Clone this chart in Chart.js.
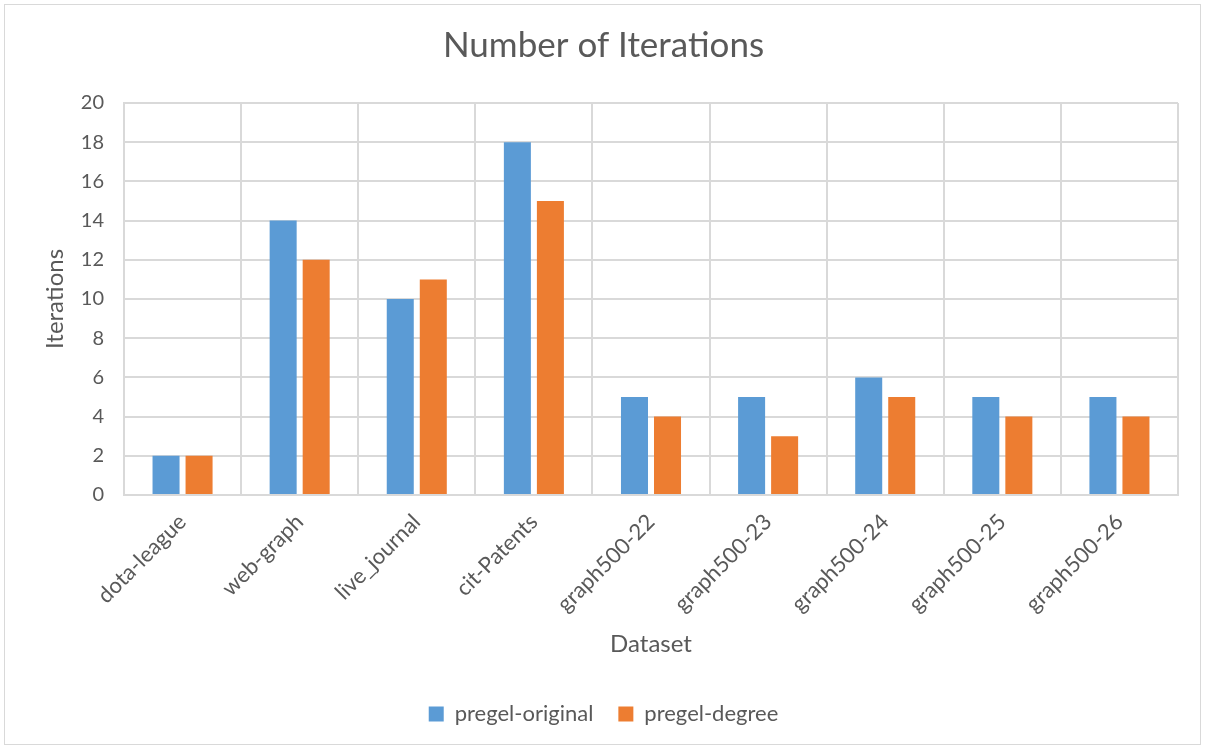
<!DOCTYPE html>
<html>
<head>
<meta charset="utf-8">
<script src="https://cdn.jsdelivr.net/npm/chart.js@4"></script>
<style>
  body { margin: 0; background: #fff; }
  canvas { display: block; }
</style>
</head>
<body>
<canvas id="chart" width="1207" height="749"></canvas>
<script>
const categories = ['dota-league', 'web-graph', 'live_journal', 'cit-Patents', 'graph500-22',
  'graph500-23', 'graph500-24', 'graph500-25', 'graph500-26'];
const pregelOriginal = [2, 14, 10, 18, 5, 5, 6, 5, 5];
const pregelDegree = [2, 12, 11, 15, 4, 3, 5, 4, 4];
const yTicks = [0, 2, 4, 6, 8, 10, 12, 14, 16, 18, 20];

const textColor = '#595959';
const gridColor = '#d9d9d9';
const fontFamily = 'Lato, "Open Sans", sans-serif';

// outer frame like the spreadsheet chart box
const frame = {
  id: 'frame',
  beforeDraw(chart) {
    const ctx = chart.ctx;
    ctx.save();
    ctx.fillStyle = '#fff';
    ctx.fillRect(0, 0, chart.width, chart.height);
    ctx.strokeStyle = gridColor;
    ctx.lineWidth = 1;
    ctx.strokeRect(4.5, 4.5, 1196, 740);
    ctx.restore();
  }
};

const ctx = document.getElementById('chart').getContext('2d');
new Chart(ctx, {
  type: 'bar',
  data: {
    labels: categories,
    datasets: [
      { label: 'pregel-original', data: pregelOriginal, backgroundColor: '#5B9BD5' },
      { label: 'pregel-degree', data: pregelDegree, backgroundColor: '#ED7D31' },
    ],
  },
  plugins: [frame],
  options: {
    responsive: false,
    animation: false,
    devicePixelRatio: 1,
    categoryPercentage: 0.564,
    barPercentage: 0.818,
    layout: { padding: { left: 0, right: 0, top: 20, bottom: 14 } },
    plugins: {
      title: {
        display: true,
        text: 'Number of Iterations',
        color: textColor,
        font: { family: fontFamily, size: 35, weight: 'normal' },
        padding: { top: 5, bottom: 36 },
      },
      legend: {
        position: 'bottom',
        labels: {
          color: textColor,
          font: { family: fontFamily, size: 22 },
          boxWidth: 15,
          boxHeight: 15,
          padding: 25,
        },
      },
      tooltip: { enabled: false },
    },
    scales: {
      x: {
        grid: { color: gridColor, lineWidth: 2, drawTicks: false, offset: true },
        border: { color: gridColor, width: 2 },
        ticks: {
          color: textColor,
          font: { family: fontFamily, size: 22 },
          maxRotation: 45,
          minRotation: 45,
          padding: 14,
        },
        title: {
          display: true,
          text: 'Dataset',
          color: textColor,
          font: { family: fontFamily, size: 24 },
          padding: { top: 19, bottom: 19 },
        },
        afterFit(scale) { scale.height = 183; },
      },
      y: {
        min: 0,
        max: 20,
        grid: { color: gridColor, lineWidth: 2, drawTicks: false },
        border: { color: gridColor, width: 2 },
        afterBuildTicks(scale) { scale.ticks = yTicks.map(v => ({ value: v })); },
        ticks: {
          color: textColor,
          font: { family: fontFamily, size: 20 },
          padding: 20,
        },
        title: {
          display: true,
          text: 'Iterations',
          color: textColor,
          font: { family: fontFamily, size: 24 },
          padding: { top: 41, bottom: 0 },
        },
        afterFit(scale) { scale.width = 124; },
      },
      // empty right-hand spacer so the title and legend centre on the whole box
      spacer: {
        type: 'linear',
        position: 'right',
        display: true,
        grid: { display: false },
        border: { display: false },
        ticks: { display: false },
        afterFit(scale) { scale.width = 29; },
      },
    },
  },
});
</script>
</body>
</html>
